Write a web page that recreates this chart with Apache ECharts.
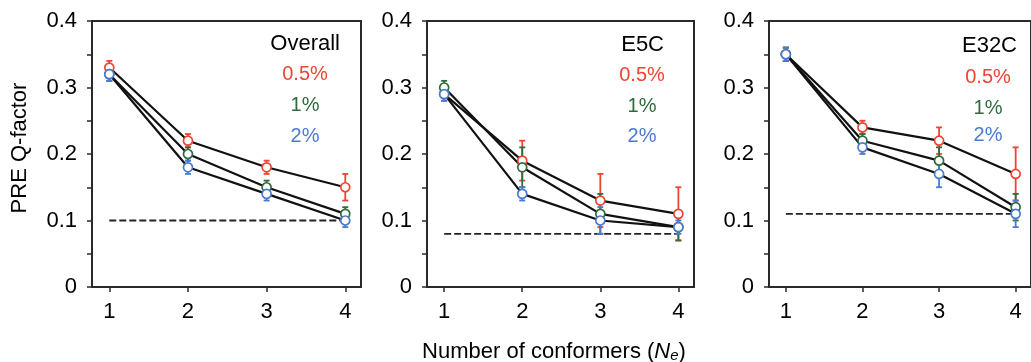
<!DOCTYPE html>
<html>
<head>
<meta charset="utf-8">
<script src="https://cdn.jsdelivr.net/npm/echarts@6/dist/echarts.min.js"></script>
<style>
  html, body { margin: 0; padding: 0; background: #fff; }
  #chart { width: 1031px; height: 362px; }
</style>
</head>
<body>
<div id="chart"></div>
<script>
// Number of conformers (x values)
const conformers = [1, 2, 3, 4];
const panelNames = ["Overall", "E5C", "E32C"];
const noiseLabels = ["0.5%", "1%", "2%"];
const yTicks = [0, 0.1, 0.2, 0.3, 0.4];

// PRE Q-factor, per panel, per noise level
const overallQ05 = [0.33, 0.22, 0.18, 0.15];
const overallQ1 = [0.32, 0.20, 0.15, 0.11];
const overallQ2 = [0.32, 0.18, 0.14, 0.10];
const overallErr05 = [0.01, 0.01, 0.01, 0.02];
const overallErr1 = [0.01, 0.01, 0.01, 0.01];
const overallErr2 = [0.01, 0.01, 0.01, 0.01];

const e5cQ05 = [0.29, 0.19, 0.13, 0.11];
const e5cQ1 = [0.30, 0.18, 0.11, 0.09];
const e5cQ2 = [0.29, 0.14, 0.10, 0.09];
const e5cErr05 = [0.01, 0.03, 0.04, 0.04];
const e5cErr1 = [0.01, 0.03, 0.03, 0.02];
const e5cErr2 = [0.01, 0.01, 0.02, 0.01];

const e32cQ05 = [0.35, 0.24, 0.22, 0.17];
const e32cQ1 = [0.35, 0.22, 0.19, 0.12];
const e32cQ2 = [0.35, 0.21, 0.17, 0.11];
const e32cErr05 = [0.01, 0.01, 0.02, 0.04];
const e32cErr1 = [0.01, 0.01, 0.02, 0.02];
const e32cErr2 = [0.01, 0.01, 0.02, 0.02];

// dashed reference level per panel
const referenceQ = [0.10, 0.08, 0.11];

const colors = ["#ee4433", "#2f6b3c", "#4a7bd0"];
const font = "'Liberation Sans', Arial, Helvetica, sans-serif";

const panelValues = [
  [overallQ05, overallQ1, overallQ2],
  [e5cQ05, e5cQ1, e5cQ2],
  [e32cQ05, e32cQ1, e32cQ2],
];
const panelErrors = [
  [overallErr05, overallErr1, overallErr2],
  [e5cErr05, e5cErr1, e5cErr2],
  [e32cErr05, e32cErr1, e32cErr2],
];

const grids = [
  { left: 92, top: 21, width: 269, height: 266 },
  { left: 427, top: 21, width: 267, height: 266 },
  { left: 769, top: 21, width: 265, height: 266 },
];

// text placement inside each panel
const labelSpots = [
  { nameRight: 340, nameY: 44, pctX: 305, pctY: [74, 105, 136] },
  { nameRight: 664, nameY: 45, pctX: 642, pctY: [75, 106, 136] },
  { nameRight: 1017, nameY: 46, pctX: 988, pctY: [77, 108, 135] },
];

const chart = echarts.init(document.getElementById("chart"), null, { renderer: "canvas" });

const axisColor = "#2a2a2a";
const textColor = "#000";

const xAxes = grids.map((g, i) => ({
  type: "value",
  gridIndex: i,
  min: 0.78,
  max: 4.2,
  axisLine: { lineStyle: { color: axisColor, width: 2 } },
  axisTick: { customValues: conformers, length: 5, lineStyle: { color: axisColor, width: 1.5 } },
  axisLabel: {
    customValues: conformers,
    margin: 14,
    fontSize: 22,
    color: textColor,
    fontFamily: font,
  },
  splitLine: { show: false },
}));

const yAxes = grids.map((g, i) => ({
  type: "value",
  gridIndex: i,
  min: 0,
  max: 0.4,
  interval: 0.1,
  axisLine: { show: true, lineStyle: { color: axisColor, width: 2 } },
  axisTick: { show: true, length: 5, lineStyle: { color: axisColor, width: 1.5 } },
  minorTick: { show: true, splitNumber: 2, length: 5, lineStyle: { color: axisColor, width: 1.5 } },
  axisLabel: {
    margin: 15,
    fontSize: 22,
    color: textColor,
    fontFamily: font,
    formatter: (v) => (yTicks.indexOf(v) === 0 ? "0" : v.toFixed(1)),
  },
  splitLine: { show: false },
}));

const series = [];
panelValues.forEach((group, p) => {
  // dashed reference line across 1..4
  series.push({
    type: "line",
    xAxisIndex: p,
    yAxisIndex: p,
    data: [[conformers[0], referenceQ[p]], [conformers[conformers.length - 1], referenceQ[p]]],
    symbol: "none",
    lineStyle: { color: "#222", width: 1.8, type: [7, 3] },
    silent: true,
    z: 2,
  });
  // black connecting lines
  group.forEach((vals) => {
    series.push({
      type: "line",
      xAxisIndex: p,
      yAxisIndex: p,
      data: conformers.map((c, k) => [c, vals[k]]),
      symbol: "none",
      lineStyle: { color: "#111", width: 2.2 },
      z: 3,
    });
  });
  // error bars
  group.forEach((vals, s) => {
    const errs = panelErrors[p][s];
    series.push({
      type: "custom",
      xAxisIndex: p,
      yAxisIndex: p,
      data: conformers.map((c, k) => [c, vals[k] - errs[k], vals[k] + errs[k]]),
      renderItem: (params, api) => {
        const lo = api.coord([api.value(0), api.value(1)]);
        const hi = api.coord([api.value(0), api.value(2)]);
        const cap = 3;
        const style = { stroke: colors[s], lineWidth: 1.8 };
        return {
          type: "group",
          children: [
            { type: "line", shape: { x1: lo[0], y1: lo[1], x2: hi[0], y2: hi[1] }, style },
            { type: "line", shape: { x1: lo[0] - cap, y1: lo[1], x2: lo[0] + cap, y2: lo[1] }, style },
            { type: "line", shape: { x1: hi[0] - cap, y1: hi[1], x2: hi[0] + cap, y2: hi[1] }, style },
          ],
        };
      },
      z: 4,
    });
  });
  // open circles
  group.forEach((vals, s) => {
    series.push({
      type: "scatter",
      xAxisIndex: p,
      yAxisIndex: p,
      data: conformers.map((c, k) => [c, vals[k]]),
      symbol: "circle",
      symbolSize: 9,
      itemStyle: { color: "#fff", borderColor: colors[s], borderWidth: 1.7, opacity: 1 },
      z: 5,
    });
  });
});

const graphics = [];
labelSpots.forEach((spot, p) => {
  graphics.push({
    type: "text",
    x: spot.nameRight,
    y: spot.nameY,
    style: {
      text: panelNames[p],
      fill: textColor,
      font: "22px " + font,
      textAlign: "right",
      textVerticalAlign: "middle",
    },
  });
  noiseLabels.forEach((lab, s) => {
    graphics.push({
      type: "text",
      x: spot.pctX,
      y: spot.pctY[s],
      style: {
        text: lab,
        fill: colors[s],
        font: "20px " + font,
        textAlign: "center",
        textVerticalAlign: "middle",
      },
    });
  });
});

// y-axis title
graphics.push({
  type: "text",
  x: 20,
  y: 148,
  rotation: Math.PI / 2,
  style: {
    text: "PRE Q-factor",
    fill: textColor,
    font: "22px " + font,
    textAlign: "center",
    textVerticalAlign: "middle",
  },
});

// x-axis title with italic N and subscript e
graphics.push({
  type: "text",
  x: 554,
  y: 352,
  style: {
    text: "Number of conformers ({n|N}{sub|e})",
    fill: textColor,
    font: "22px " + font,
    textAlign: "center",
    textVerticalAlign: "middle",
    rich: {
      n: { fontStyle: "italic", fontSize: 22, fontFamily: font, fill: textColor },
      sub: { fontStyle: "italic", fontSize: 15, fontFamily: font, fill: textColor, verticalAlign: "bottom", padding: [8, 0, 0, 0] },
    },
  },
});

chart.setOption({
  backgroundColor: "#fff",
  animation: false,
  grid: grids.map((g) => ({ ...g, show: true, borderColor: axisColor, borderWidth: 2, backgroundColor: "transparent" })),
  xAxis: xAxes,
  yAxis: yAxes,
  series,
  graphic: graphics,
});
</script>
</body>
</html>
